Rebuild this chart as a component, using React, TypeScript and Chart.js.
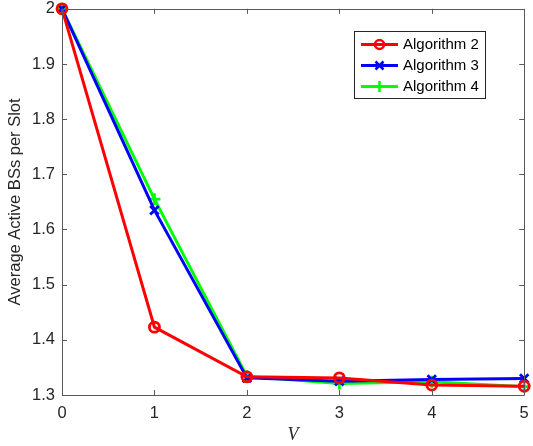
import React, { useEffect, useRef } from "react";
import { Chart, registerables } from "chart.js";

Chart.register(...registerables);

const vValues = [0, 1, 2, 3, 4, 5];
const alg2 = [2.0, 1.423, 1.333, 1.331, 1.318, 1.316];
const alg3 = [2.0, 1.635, 1.331, 1.325, 1.328, 1.33];
const alg4 = [2.0, 1.655, 1.334, 1.321, 1.324, 1.315];
const seriesNames = ["Algorithm 2", "Algorithm 3", "Algorithm 4"];
const seriesColors = ["#ff0000", "#0000ff", "#00ff00"];
const seriesMarkers = ["circle", "crossRot", "cross"];
const yTicks = [1.3, 1.4, 1.5, 1.6, 1.7, 1.8, 1.9, 2.0];

const W = 533;
const H = 446;
const LEFT = 62;
const RIGHT = 527;
const TOP = 8;
const BOTTOM = 395;
const SANS = "'Liberation Sans', Arial, Helvetica, sans-serif";

const framePlugin = {
  id: "frame",
  afterDatasetsDraw(chart: any) {
    const ctx = chart.ctx;
    const a = chart.chartArea;
    const xs = chart.scales.x;
    const ys = chart.scales.y;
    ctx.save();
    ctx.strokeStyle = "#5a5a5a";
    ctx.lineWidth = 1;
    ctx.beginPath();
    ctx.rect(Math.round(a.left) + 0.5, Math.round(a.top) + 0.5, Math.round(a.right - a.left), Math.round(a.bottom - a.top));
    ctx.stroke();
    const tl = 5;
    ctx.beginPath();
    for (const v of vValues) {
      const px = Math.round(xs.getPixelForValue(v)) + 0.5;
      ctx.moveTo(px, a.bottom);
      ctx.lineTo(px, a.bottom - tl);
      ctx.moveTo(px, a.top);
      ctx.lineTo(px, a.top + tl);
    }
    for (const v of yTicks) {
      const py = Math.round(ys.getPixelForValue(v)) + 0.5;
      ctx.moveTo(a.left, py);
      ctx.lineTo(a.left + tl, py);
      ctx.moveTo(a.right, py);
      ctx.lineTo(a.right - tl, py);
    }
    ctx.stroke();
    ctx.restore();
  },
  afterDraw(chart: any) {
    const ctx = chart.ctx;
    const bx = 354.5, by = 31.5, bw = 131, bh = 67;
    ctx.save();
    ctx.fillStyle = "#ffffff";
    ctx.fillRect(bx, by, bw, bh);
    ctx.strokeStyle = "#262626";
    ctx.lineWidth = 1;
    ctx.strokeRect(bx, by, bw, bh);
    ctx.font = "15px " + SANS;
    ctx.textBaseline = "middle";
    ctx.textAlign = "left";
    for (let i = 0; i < seriesNames.length; i++) {
      const rowY = 44.5 + i * 21;
      ctx.strokeStyle = seriesColors[i];
      ctx.lineWidth = 3;
      ctx.beginPath();
      ctx.moveTo(361, rowY);
      ctx.lineTo(398, rowY);
      ctx.stroke();
      const mx = 379.5;
      ctx.lineWidth = 2.5;
      ctx.beginPath();
      if (seriesMarkers[i] === "circle") {
        ctx.arc(mx, rowY, 4.5, 0, Math.PI * 2);
      } else if (seriesMarkers[i] === "crossRot") {
        ctx.moveTo(mx - 4, rowY - 4);
        ctx.lineTo(mx + 4, rowY + 4);
        ctx.moveTo(mx + 4, rowY - 4);
        ctx.lineTo(mx - 4, rowY + 4);
      } else {
        ctx.moveTo(mx - 5.5, rowY);
        ctx.lineTo(mx + 5.5, rowY);
        ctx.moveTo(mx, rowY - 5.5);
        ctx.lineTo(mx, rowY + 5.5);
      }
      ctx.stroke();
      ctx.fillStyle = "#000000";
      ctx.fillText(seriesNames[i], 403, rowY + 0.5);
    }
    ctx.restore();
  },
};

export default function App() {
  const ref = useRef<HTMLCanvasElement | null>(null);
  useEffect(() => {
    document.body.style.margin = "0";
    const canvas = ref.current!;
    const mk = (data: number[], i: number) => ({
      label: seriesNames[i],
      data: vValues.map((v, k) => ({ x: v, y: data[k] })),
      borderColor: seriesColors[i],
      backgroundColor: "rgba(0,0,0,0)",
      borderWidth: 3,
      pointStyle: seriesMarkers[i] as any,
      pointRadius: i === 0 ? 5 : 6,
      pointBorderWidth: 2.8,
      pointBorderColor: seriesColors[i],
      pointBackgroundColor: "rgba(0,0,0,0)",
      tension: 0,
      clip: false as any,
    });
    const chart = new Chart(canvas, {
      type: "line",
      data: {
        datasets: [mk(alg2, 0), mk(alg3, 1), mk(alg4, 2)],
      },
      options: {
        animation: false,
        responsive: false,
        maintainAspectRatio: false,
        layout: { padding: { top: TOP, right: W - RIGHT, left: 0, bottom: 0 } },
        plugins: { legend: { display: false }, tooltip: { enabled: false } },
        scales: {
          x: {
            type: "linear",
            min: 0,
            max: 5,
            afterFit: (s: any) => {
              s.height = H - BOTTOM;
              s.paddingLeft = 0;
              s.paddingRight = 0;
            },
            grid: { display: false, drawTicks: false },
            border: { display: false },
            ticks: {
              stepSize: 1,
              padding: 9,
              color: "#262626",
              font: { family: SANS, size: 16.5 },
              maxRotation: 0,
            },
            title: {
              display: true,
              text: "V",
              color: "#262626",
              padding: { top: 0, bottom: 0 },
              font: { family: "'Liberation Serif', 'Times New Roman', serif", size: 18, style: "italic" },
            },
          },
          y: {
            type: "linear",
            min: 1.3,
            max: 2,
            afterFit: (s: any) => {
              s.width = LEFT;
              s.paddingTop = 0;
              s.paddingBottom = 0;
            },
            afterBuildTicks: (s: any) => { s.ticks = yTicks.map((v) => ({ value: v })); },
            grid: { display: false, drawTicks: false },
            border: { display: false },
            ticks: {
              padding: 7,
              color: "#262626",
              font: { family: SANS, size: 16.5 },
              callback: (v: any) => String(Number(Number(v).toFixed(1))),
            },
            title: {
              display: true,
              text: "Average Active BSs per Slot",
              color: "#262626",
              padding: { top: 6, bottom: 0 },
              font: { family: SANS, size: 16.5 },
            },
          },
        },
      },
      plugins: [framePlugin],
    });
    return () => chart.destroy();
  }, []);
  return (
    <div style={{ position: "absolute", left: 0, top: 0, width: W, height: H, background: "#fff" }}>
      <canvas ref={ref} width={W} height={H} style={{ width: W, height: H, display: "block" }} />
    </div>
  );
}
